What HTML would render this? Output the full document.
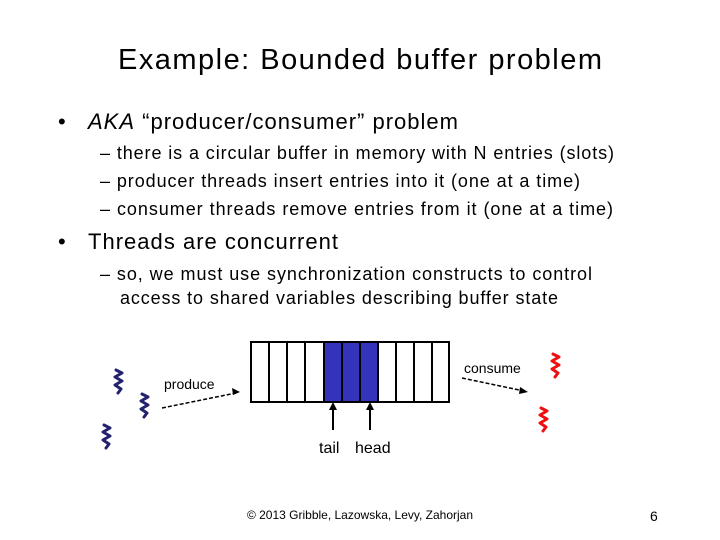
<!DOCTYPE html>
<html><head><meta charset="utf-8"><style>html,body{margin:0;padding:0;background:#fff}svg{display:block}</style></head><body>
<svg width="720" height="540" xmlns="http://www.w3.org/2000/svg" font-family="Liberation Sans, Arial, sans-serif">
<rect width="720" height="540" fill="#fff"/>
<text x="360" y="69" font-size="29" text-anchor="middle" textLength="484">Example: Bounded buffer problem</text>
<text x="58" y="129" font-size="22">•</text>
<text x="88" y="129" font-size="22" textLength="370"><tspan font-style="italic">AKA</tspan> “producer/consumer” problem</text>
<g font-size="18">
<text x="100" y="159" textLength="514">– there is a circular buffer in memory with N entries (slots)</text>
<text x="100" y="187" textLength="480">– producer threads insert entries into it (one at a time)</text>
<text x="100" y="215" textLength="513">– consumer threads remove entries from it (one at a time)</text>
<text x="100" y="280" textLength="492">– so, we must use synchronization constructs to control</text>
<text x="120" y="304" textLength="438">access to shared variables describing buffer state</text>
</g>
<text x="58" y="249" font-size="22">•</text>
<text x="88" y="249" font-size="22" textLength="250">Threads are concurrent</text>
<!-- buffer -->
<rect x="324" y="342" width="54" height="60" fill="#3333bb"/>
<g stroke="#000" stroke-width="2" fill="none">
<rect x="251" y="342" width="198" height="60"/>
<path d="M269 342V402M287 342V402M305 342V402M324 342V402M342 342V402M360 342V402M378 342V402M396 342V402M414 342V402M432 342V402"/>
<path d="M333 430V408M370 430V408"/>
</g>
<path d="M333 402l-4 8h8zM370 402l-4 8h8z" fill="#000"/>
<text x="319" y="453" font-size="16">tail</text>
<text x="355" y="453" font-size="16">head</text>
<text x="164" y="389" font-size="14">produce</text>
<text x="464" y="373" font-size="14">consume</text>
<g stroke="#000" stroke-width="1.5" stroke-dasharray="4,2" fill="none">
<path d="M162 408L236 393"/><path d="M462 378L524 391"/>
</g>
<path d="M240 392l-8-4 1 7zM528 392l-8-5-1 7z" fill="#000"/>
<g fill="none" stroke-width="3" stroke-linecap="round" stroke-linejoin="round">
<path d="M116 370l6 3-7 4 7 4-7 4 6 4-3 4" stroke="#22226e"/>
<path d="M142 394l6 3-7 4 7 4-7 4 6 4-3 4" stroke="#22226e"/>
<path d="M104 425l6 3-7 4 7 4-7 4 6 4-3 4" stroke="#22226e"/>
<path d="M553 354l6 3-7 4 7 4-7 4 6 4-3 4" stroke="#ee1111"/>
<path d="M541 408l6 3-7 4 7 4-7 4 6 4-3 4" stroke="#ee1111"/>
</g>
<text x="360" y="519" font-size="12" text-anchor="middle">© 2013 Gribble, Lazowska, Levy, Zahorjan</text>
<text x="650" y="521" font-size="14">6</text>
</svg>
</body></html>
